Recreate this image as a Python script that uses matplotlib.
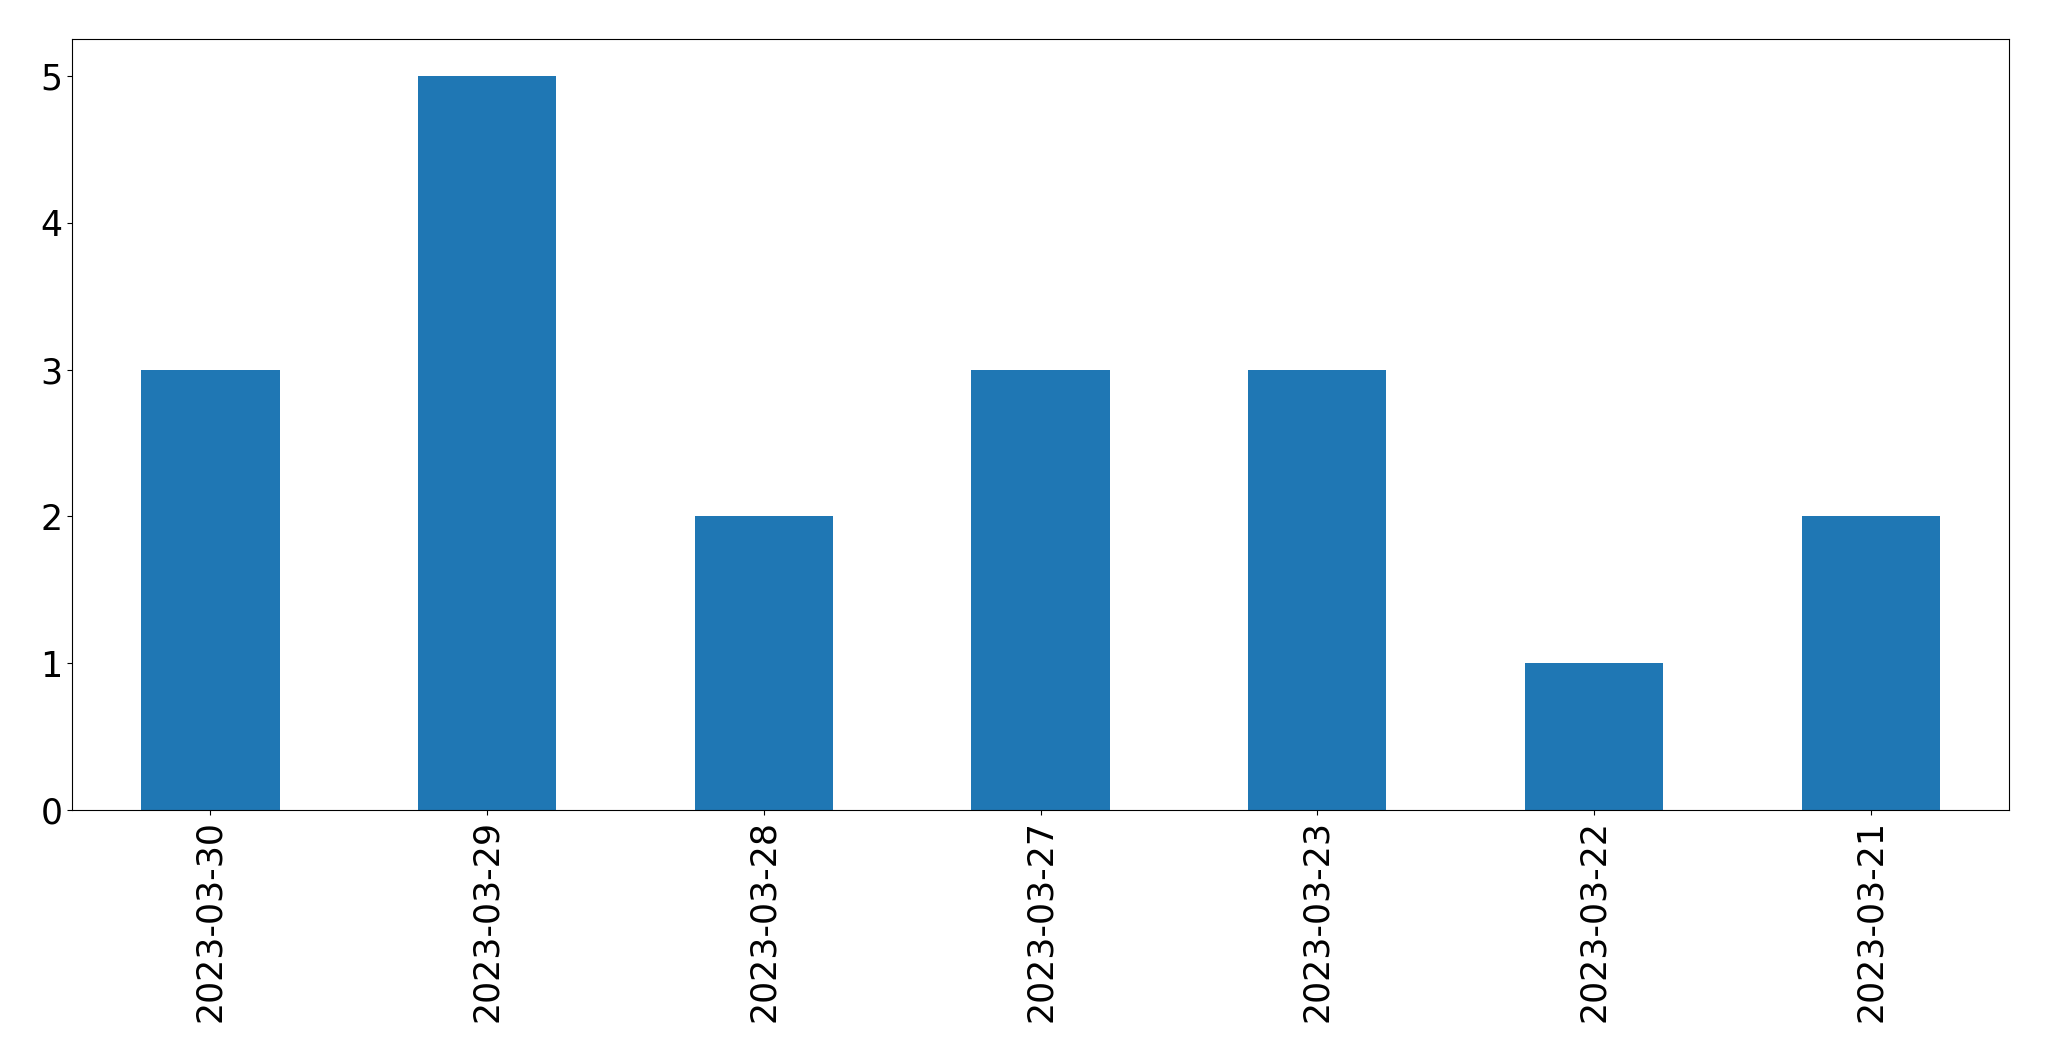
import matplotlib
matplotlib.use("Agg")
import matplotlib.pyplot as plt
import pandas as pd

# Data
dates = ['2023-03-30', '2023-03-29', '2023-03-28', '2023-03-27',
         '2023-03-23', '2023-03-22', '2023-03-21']
counts = [3, 5, 2, 3, 3, 1, 2]

series = pd.Series(counts, index=dates)

fig = plt.figure(figsize=(20.49, 10.61), dpi=100)
ax = fig.add_axes([0.0352, 0.2366, 0.9453, 0.7264])
series.plot(kind='bar', ax=ax, color='#1f77b4')

ax.set_xlim(-0.5, len(dates) - 0.5)
ax.set_ylim(0, 5.25)
ax.tick_params(axis='both', labelsize=25)
ax.set_xlabel('')

fig.savefig('out.png', dpi=100)
